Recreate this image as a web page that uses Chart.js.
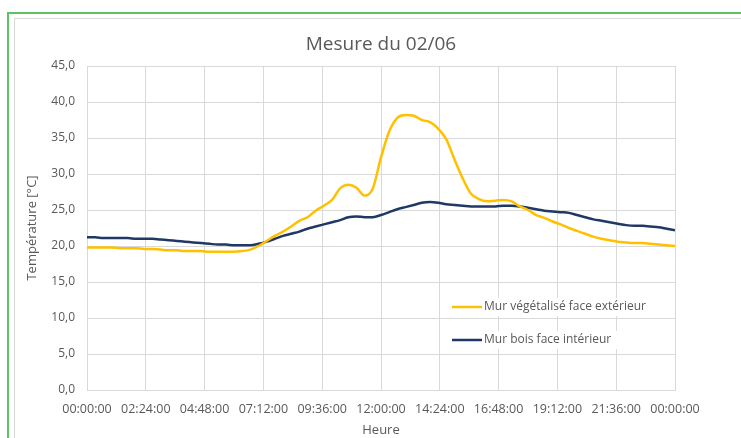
<!DOCTYPE html>
<html>
<head>
<meta charset="utf-8">
<script src="https://cdn.jsdelivr.net/npm/chart.js@4.4.1/dist/chart.umd.min.js"></script>
<style>
  html, body { margin: 0; padding: 0; background: #fff; }
  #wrap { width: 741px; height: 438px; }
</style>
</head>
<body>
<div id="wrap"><canvas id="myChart" width="741" height="438"></canvas></div>
<script>
"use strict";

// heures de mesure, en minutes depuis minuit (pas de 20 min)
const minutes = [
  0, 20, 40, 60, 80, 100, 120, 140, 160, 180, 200, 220,
  240, 260, 280, 300, 320, 340, 360, 380, 400, 420, 440, 460,
  480, 500, 520, 540, 560, 580, 600, 620, 640, 660, 680, 700,
  720, 740, 760, 780, 800, 820, 840, 860, 880, 900, 920, 940,
  960, 980, 1000, 1020, 1040, 1060, 1080, 1100, 1120, 1140, 1160, 1180,
  1200, 1220, 1240, 1260, 1280, 1300, 1320, 1340, 1360, 1380, 1400, 1420,
  1440
];

const murVegetalise = [
  19.8, 19.8, 19.8, 19.8, 19.7, 19.7, 19.7, 19.6, 19.6, 19.5, 19.4, 19.4,
  19.3, 19.3, 19.3, 19.2, 19.2, 19.2, 19.2, 19.3, 19.5, 20.0, 20.7, 21.4,
  22.0, 22.7, 23.5, 24.0, 24.9, 25.6, 26.4, 28.0, 28.5, 28.1, 27.0, 28.0,
  32.3, 35.9, 37.8, 38.2, 38.1, 37.5, 37.2, 36.3, 34.8, 32.0, 29.4, 27.3,
  26.5, 26.2, 26.3, 26.4, 26.2, 25.5, 25.0, 24.3, 23.9, 23.4, 23.0, 22.5,
  22.1, 21.7, 21.3, 21.0, 20.8, 20.6, 20.5, 20.4, 20.4, 20.3, 20.2, 20.1,
  20.0
];

const murBois = [
  21.2, 21.2, 21.1, 21.1, 21.1, 21.1, 21.0, 21.0, 21.0, 20.9, 20.8, 20.7,
  20.6, 20.5, 20.4, 20.3, 20.2, 20.2, 20.1, 20.1, 20.1, 20.3, 20.6, 21.0,
  21.4, 21.7, 22.0, 22.4, 22.7, 23.0, 23.3, 23.6, 24.0, 24.1, 24.0, 24.0,
  24.3, 24.7, 25.1, 25.4, 25.7, 26.0, 26.1, 26.0, 25.8, 25.7, 25.6, 25.5,
  25.5, 25.5, 25.5, 25.6, 25.6, 25.5, 25.3, 25.1, 24.9, 24.8, 24.7, 24.6,
  24.3, 24.0, 23.7, 23.5, 23.3, 23.1, 22.9, 22.8, 22.8, 22.7, 22.6, 22.4,
  22.2
];

const xTickLabels = [
  "00:00:00", "02:24:00", "04:48:00", "07:12:00", "09:36:00", "12:00:00",
  "14:24:00", "16:48:00", "19:12:00", "21:36:00", "00:00:00"
];

const chartTitle = "Mesure du 02/06";
const seriesNames = ["Mur végétalisé face extérieur", "Mur bois face intérieur"];
const seriesColors = ["#FFC000", "#1F3864"];

const textColor = "#595959";
const gridColor = "#D9D9D9";
const fontFamily = "'Open Sans', sans-serif";

function toPoints(values) {
  let pts = [];
  for (let i = 0; i < values.length; i++) {
    pts.push({ x: minutes[i], y: values[i] });
  }
  return pts;
}

// fond blanc + cadres + titre centré sur la zone de tracé
const framePlugin = {
  id: "frame",
  beforeDraw(chart) {
    const ctx = chart.ctx;
    const area = chart.chartArea;
    ctx.save();
    ctx.fillStyle = "#fff";
    ctx.fillRect(0, 0, chart.width, chart.height);
    ctx.strokeStyle = "#5CC45C";
    ctx.lineWidth = 2;
    ctx.strokeRect(8, 13, 900, 600);
    ctx.strokeStyle = "#D9D9D9";
    ctx.lineWidth = 1;
    ctx.strokeRect(14.5, 18.5, 900, 600);

    ctx.fillStyle = textColor;
    ctx.font = "19px " + fontFamily;
    ctx.textAlign = "center";
    ctx.textBaseline = "middle";
    ctx.fillText(chartTitle, (area.left + area.right) / 2, 45);
    ctx.restore();
  },
};

// légende dans la zone du graphique
const insideLegend = {
  id: "insideLegend",
  afterDatasetsDraw(chart) {
    const ctx = chart.ctx;
    const x0 = 452;
    const rows = [307, 340];
    ctx.save();
    ctx.font = "12px " + fontFamily;
    ctx.textBaseline = "middle";
    chart.data.datasets.forEach(function (ds, i) {
      const y = rows[i];
      ctx.fillStyle = "#fff";
      ctx.fillRect(x0 - 2, y - 9, 215, 18);
      ctx.strokeStyle = ds.borderColor;
      ctx.lineWidth = 2.5;
      ctx.beginPath();
      ctx.moveTo(x0, y);
      ctx.lineTo(x0 + 30, y);
      ctx.stroke();
      ctx.fillStyle = textColor;
      ctx.fillText(ds.label, x0 + 32, y);
    });
    ctx.restore();
  },
};

const ctx = document.getElementById("myChart").getContext("2d");

const myChart = new Chart(ctx, {
  type: "line",
  data: {
    datasets: [
      {
        label: seriesNames[0],
        data: toPoints(murVegetalise),
        borderColor: seriesColors[0],
        borderWidth: 2.5,
        pointRadius: 0,
        cubicInterpolationMode: "monotone",
      },
      {
        label: seriesNames[1],
        data: toPoints(murBois),
        borderColor: seriesColors[1],
        borderWidth: 2.5,
        pointRadius: 0,
        cubicInterpolationMode: "monotone",
      },
    ],
  },
  options: {
    responsive: false,
    animation: false,
    layout: { padding: { top: 66, right: 66, left: 20, bottom: 0 } },
    plugins: {
      legend: { display: false },
      tooltip: { enabled: false },
      title: { display: false },
    },
    scales: {
      x: {
        type: "linear",
        min: 0,
        max: 1440,
        afterFit(scale) { scale.height = 48; },
        grid: { color: gridColor, drawTicks: false },
        border: { color: gridColor },
        ticks: {
          stepSize: 144,
          autoSkip: false,
          maxRotation: 0,
          padding: 12,
          color: textColor,
          font: { family: fontFamily, size: 12.5 },
          callback: function (v) { return xTickLabels[Math.round(v / 144)]; },
        },
        title: {
          display: true,
          text: "Heure",
          color: textColor,
          font: { family: fontFamily, size: 13 },
          padding: { top: 2, bottom: 0 },
        },
      },
      y: {
        min: 0,
        max: 45,
        afterFit(scale) { scale.width = 67; },
        grid: { color: gridColor, drawTicks: false },
        border: { display: false },
        ticks: {
          stepSize: 5,
          padding: 12,
          color: textColor,
          font: { family: fontFamily, size: 12 },
          callback: function (v) { return v.toFixed(1).replace(".", ","); },
        },
        title: {
          display: true,
          text: "Température [°C]",
          color: textColor,
          font: { family: fontFamily, size: 13 },
          padding: { top: 4, bottom: 0 },
        },
      },
    },
  },
  plugins: [framePlugin, insideLegend],
});
</script>
</body>
</html>
